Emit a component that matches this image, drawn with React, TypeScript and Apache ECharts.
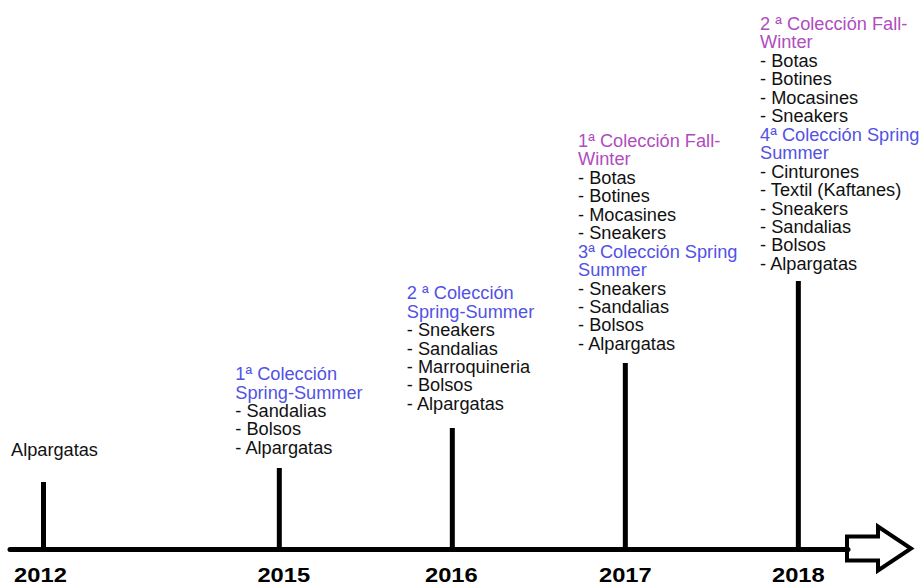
import React, { useEffect, useRef } from "react";
import * as echarts from "echarts";

// ---- data ----
const years = ["2012", "2015", "2016", "2017", "2018"];
const heights = [67, 81, 121, 186, 268];

// kinds: F = Fall-Winter title, S = Spring-Summer title, I = item
const notes2012 = [["I", "Alpargatas"]];
const notes2015 = [
  ["S", "1ª Colección"],
  ["S", "Spring-Summer"],
  ["I", "- Sandalias"],
  ["I", "- Bolsos"],
  ["I", "- Alpargatas"],
];
const notes2016 = [
  ["S", "2 ª Colección"],
  ["S", "Spring-Summer"],
  ["I", "- Sneakers"],
  ["I", "- Sandalias"],
  ["I", "- Marroquineria"],
  ["I", "- Bolsos"],
  ["I", "- Alpargatas"],
];
const notes2017 = [
  ["F", "1ª Colección Fall-"],
  ["F", "Winter"],
  ["I", "- Botas"],
  ["I", "- Botines"],
  ["I", "- Mocasines"],
  ["I", "- Sneakers"],
  ["S", "3ª Colección Spring"],
  ["S", "Summer"],
  ["I", "- Sneakers"],
  ["I", "- Sandalias"],
  ["I", "- Bolsos"],
  ["I", "- Alpargatas"],
];
const notes2018 = [
  ["F", "2 ª Colección Fall-"],
  ["F", "Winter"],
  ["I", "- Botas"],
  ["I", "- Botines"],
  ["I", "- Mocasines"],
  ["I", "- Sneakers"],
  ["S", "4ª Colección Spring"],
  ["S", "Summer"],
  ["I", "- Cinturones"],
  ["I", "- Textil (Kaftanes)"],
  ["I", "- Sneakers"],
  ["I", "- Sandalias"],
  ["I", "- Bolsos"],
  ["I", "- Alpargatas"],
];
const notes = [notes2012, notes2015, notes2016, notes2017, notes2018];

// ---- layout / style ----
const FONT = "'Liberation Sans', Arial, sans-serif";
const COLORS: Record<string, string> = { F: "#b04cbe", S: "#5252e4", I: "#111111" };
const LINE_H = 18.45;
// left of text block relative to bar, center of last line relative to bar top
const blockShift = [
  [-32.5, -31.5],
  [-44, -20],
  [-45.5, -24],
  [-47.3, -19],
  [-38.3, -17],
];
const yearDx = [-3, 4.5, -1, 0, 0];
// timeline slot: the 2012 → 2015 gap is wider than the yearly steps
const slot = (i: number) => (i === 0 ? 0 : i + 0.363);

export default function App() {
  const ref = useRef<HTMLDivElement>(null);
  useEffect(() => {
    if (!ref.current) return;
    const chart = echarts.init(ref.current, null, { renderer: "svg" });
    const data = years.map((_, i) => [slot(i), heights[i]]);
    chart.setOption({
      animation: false,
      backgroundColor: "#ffffff",
      grid: { left: 10, right: 73, top: 0, bottom: 37 },
      xAxis: {
        type: "value",
        min: -0.1936,
        max: 4.65,
        axisLine: { show: true, onZero: false, lineStyle: { color: "#000", width: 5 } },
        axisTick: { show: false },
        axisLabel: { show: false },
        splitLine: { show: false },
      },
      yAxis: { type: "value", min: 0, max: 549, show: false },
      series: [
        {
          type: "custom",
          clip: false,
          data,
          renderItem: (params: any, api: any) => {
            const i = params.dataIndex;
            const xv = api.value(0);
            const h = api.value(1);
            const base = api.coord([xv, 0]);
            const top = api.coord([xv, h]);
            const children: any[] = [
              {
                type: "rect",
                shape: { x: base[0] - 2.5, y: top[1], width: 5, height: base[1] - top[1] },
                style: { fill: "#000" },
              },
              {
                type: "text",
                x: base[0] + yearDx[i],
                y: base[1] + 25.5,
                scaleX: 1.13,
                style: {
                  text: years[i],
                  fontFamily: FONT,
                  fontWeight: "bold",
                  fontSize: 21,
                  fill: "#000",
                  align: "center",
                  verticalAlign: "middle",
                },
              },
            ];
            const lines = notes[i];
            const n = lines.length;
            const [dx, dy] = blockShift[i];
            lines.forEach(([kind, txt], k) => {
              children.push({
                type: "text",
                x: base[0] + dx,
                y: top[1] + dy - (n - 1 - k) * LINE_H,
                scaleX: 1.04,
                style: {
                  text: txt,
                  fontFamily: FONT,
                  fontSize: 17.5,
                  fill: COLORS[kind],
                  align: "left",
                  verticalAlign: "middle",
                },
              });
            });
            return { type: "group", children };
          },
        },
      ],
      graphic: [
        {
          type: "polygon",
          shape: {
            points: [
              [847, 536.5],
              [878, 536.5],
              [878, 526.5],
              [911, 548.5],
              [878, 570.5],
              [878, 560.5],
              [847, 560.5],
            ],
          },
          style: { fill: "#fff", stroke: "#000", lineWidth: 4, lineJoin: "miter" },
        },
      ],
    });
    return () => chart.dispose();
  }, []);
  return (
    <div
      ref={ref}
      style={{ position: "fixed", left: 0, top: 0, width: 921, height: 586, background: "#fff" }}
    />
  );
}
